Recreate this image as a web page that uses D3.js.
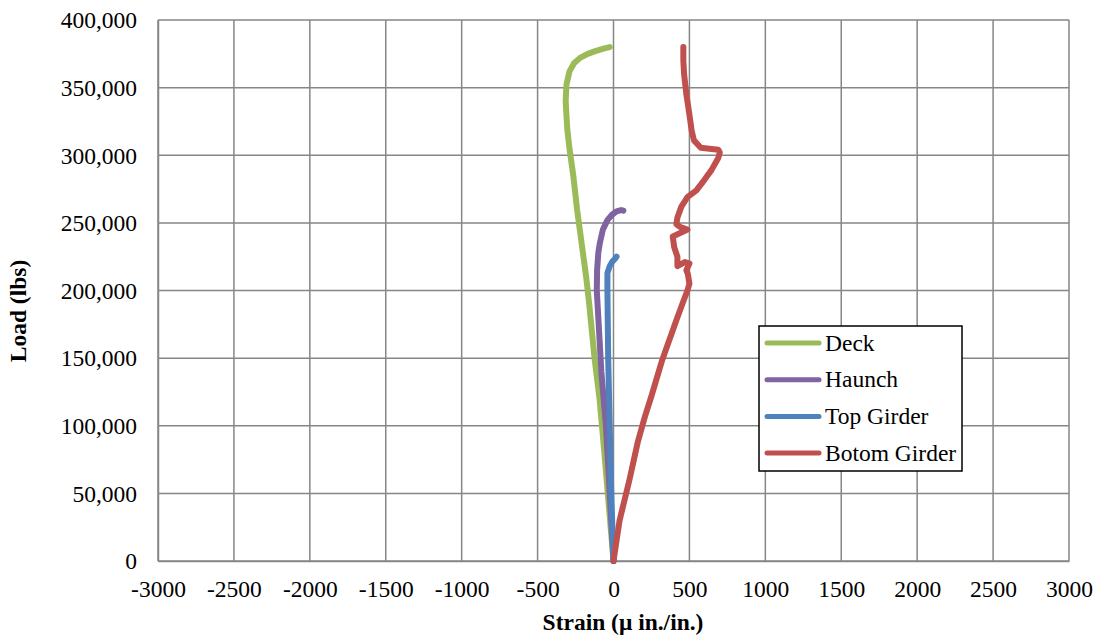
<!DOCTYPE html>
<html>
<head>
<meta charset="utf-8">
<script src="https://cdn.jsdelivr.net/npm/d3@7"></script>
<style>
  body { margin: 0; background: #fff; }
  svg text { font-family: "Liberation Serif", "Times New Roman", serif; fill: #000; }
</style>
</head>
<body>
<svg id="chart" width="1101" height="643"></svg>
<script>
// ---- Data (strain in micro in./in., load in lbs) ----
const seriesNames = ["Deck", "Haunch", "Top Girder", "Botom Girder"];
const seriesColors = ["#9BBB59", "#8064A2", "#4F81BD", "#C0504D"];

const deck = [
  [0,0],[-30,40000],[-60,80000],[-92,120000],[-125,150000],[-160,190000],[-180,210000],
  [-210,235000],[-240,260000],[-265,285000],[-290,305000],[-305,320000],[-315,340000],
  [-310,352000],[-290,362000],[-260,368000],[-220,372000],[-170,375000],[-120,377000],
  [-60,379000],[-25,380000]
];
const haunch = [
  [0,0],[-25,50000],[-50,100000],[-80,140000],[-100,180000],[-110,200000],[-108,215000],
  [-100,228000],[-90,235000],[-70,245000],[-40,252000],[-10,256000],[20,258500],
  [50,259500],[65,259000]
];
const topGirder = [
  [0,0],[-15,50000],[-25,100000],[-35,150000],[-40,200000],[-40,213000],[-25,218000],
  [-10,221000],[10,223500],[20,225000]
];
const bottomGirder = [
  [0,0],[40,30000],[105,60000],[160,88000],[205,106000],[250,122000],[322,149000],
  [414,178000],[460,192000],[487,200000],[500,205000],[490,212000],[480,215000],
  [500,220000],[470,221000],[421,218000],[421,225000],[400,232000],[390,240000],
  [450,243000],[487,245000],[440,247000],[414,249000],[421,254000],[447,262000],
  [487,269000],[546,274000],[600,282000],[645,289000],[690,298000],[700,302000],
  [690,304000],[575,305500],[530,311000],[515,318000],[500,330000],[480,345000],
  [465,360000],[460,370000],[460,380000]
];
const seriesData = [deck, haunch, topGirder, bottomGirder];

const xTicks = [-3000,-2500,-2000,-1500,-1000,-500,0,500,1000,1500,2000,2500,3000];
const yTicks = [0,50000,100000,150000,200000,250000,300000,350000,400000];
const xTitle = "Strain (\u03bc in./in.)";
const yTitle = "Load (lbs)";

// ---- Layout ----
const svg = d3.select("#chart");
const FONT = "'Liberation Serif', 'Times New Roman', serif";
const L = 158, R = 1069, T = 20, B = 561;
const x = d3.scaleLinear().domain([-3000, 3000]).range([L, R]);
const y = d3.scaleLinear().domain([0, 400000]).range([B, T]);
const fontSize = 23.5;
const gridColor = "#868686";

// Grid
const g = svg.append("g");
g.selectAll("line.vg").data(xTicks).enter().append("line")
  .attr("x1", d => x(d)).attr("x2", d => x(d)).attr("y1", T).attr("y2", B)
  .attr("stroke", gridColor).attr("stroke-width", 1.5);
g.selectAll("line.hg").data(yTicks).enter().append("line")
  .attr("x1", L).attr("x2", R).attr("y1", d => y(d)).attr("y2", d => y(d))
  .attr("stroke", gridColor).attr("stroke-width", 1.5);

// Axes
const xFmt = d => String(d);               // plain hyphen-minus
const yFmt = d => d3.format(",")(d);
const xAxis = d3.axisBottom(x).tickValues(xTicks).tickFormat(xFmt).tickSize(0).tickPadding(0);
const yAxis = d3.axisLeft(y).tickValues(yTicks).tickFormat(yFmt).tickSize(0).tickPadding(0);

const gx = svg.append("g").attr("transform", `translate(0,${B})`).call(xAxis)
  .attr("font-family", FONT).attr("font-size", fontSize);
gx.select(".domain").attr("stroke", gridColor).attr("stroke-width", 1.5);
gx.selectAll("text").attr("dy", null).attr("y", 36).style("font-family", FONT).attr("fill", "#000");

const gy = svg.append("g").attr("transform", `translate(${L},0)`).call(yAxis)
  .attr("font-family", FONT).attr("font-size", fontSize);
gy.select(".domain").attr("stroke", gridColor).attr("stroke-width", 1.5);
gy.selectAll("text").attr("x", -21).attr("dy", "0.33em").style("font-family", FONT).attr("fill", "#000");

// Series lines
const line = d3.line().x(d => x(d[0])).y(d => y(d[1])).curve(d3.curveLinear);
seriesData.forEach((data, i) => {
  svg.append("path").datum(data)
    .attr("d", line)
    .attr("fill", "none")
    .attr("stroke", seriesColors[i])
    .attr("stroke-width", 6)
    .attr("stroke-linejoin", "round")
    .attr("stroke-linecap", "round");
});

// Axis titles
svg.append("text").attr("x", 623).attr("y", 630).attr("text-anchor", "middle")
  .style("font-family", FONT).attr("font-size", fontSize).attr("font-weight", "bold").text(xTitle);
svg.append("text").attr("transform", "translate(26,311) rotate(-90)")
  .attr("text-anchor", "middle").style("font-family", FONT)
  .attr("font-size", fontSize).attr("font-weight", "bold").text(yTitle);

// Legend
const lg = svg.append("g");
lg.append("rect").attr("x", 759).attr("y", 326).attr("width", 203).attr("height", 145)
  .attr("fill", "#fff").attr("stroke", "#000").attr("stroke-width", 1.5);
seriesNames.forEach((name, i) => {
  const yy = 343 + i * 36.7;
  lg.append("line").attr("x1", 767).attr("x2", 819).attr("y1", yy).attr("y2", yy)
    .attr("stroke", seriesColors[i]).attr("stroke-width", 5).attr("stroke-linecap", "round");
  lg.append("text").attr("x", 825).attr("y", yy).attr("dy", "0.33em")
    .style("font-family", FONT).attr("font-size", fontSize).text(name);
});
</script>
</body>
</html>
